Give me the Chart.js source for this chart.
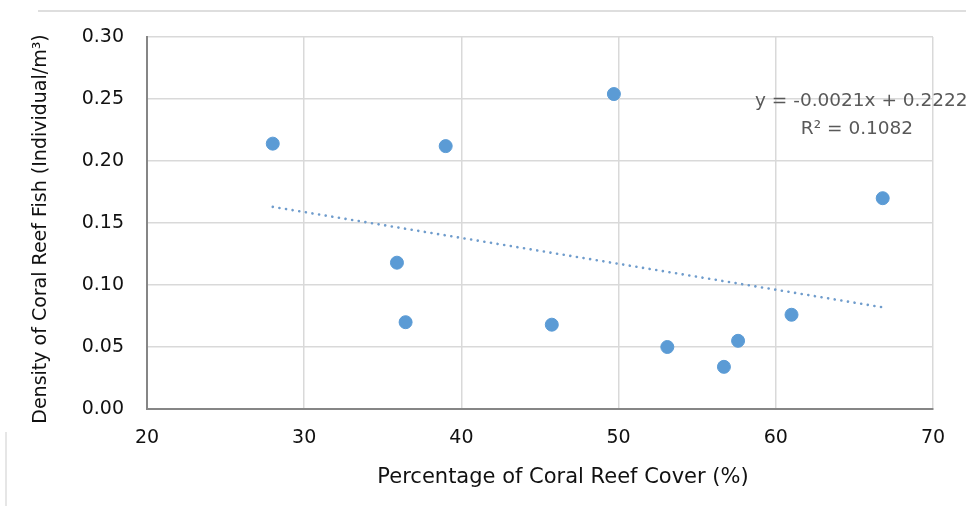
<!DOCTYPE html>
<html>
<head>
<meta charset="utf-8">
<script src="https://cdn.jsdelivr.net/npm/chart.js@4.4.1/dist/chart.umd.min.js"></script>
<style>
  html, body { margin: 0; padding: 0; background: #fff; }
  #wrap { position: relative; width: 966px; height: 506px; overflow: hidden; }
  #topline { position: absolute; left: 38px; right: 0; top: 10px; border-top: 2px solid #dedede; }
  #leftline { position: absolute; left: 5px; top: 432px; bottom: 0; border-left: 2px solid #e6e6e6; }
</style>
</head>
<body>
<div id="wrap">
  <canvas id="chart" width="966" height="506"></canvas>
  <div id="topline"></div>
  <div id="leftline"></div>
</div>
<script>
// ===== coral reef scatter =====
const reefCover = [28.0, 35.9, 36.45, 39.0, 45.75, 49.7, 53.1, 56.7, 57.6, 61.0, 66.8];
const fishDensity = [0.214, 0.118, 0.070, 0.212, 0.068, 0.254, 0.050, 0.034, 0.055, 0.076, 0.170];
// trend line ends
const trendX = [28.0, 66.8];
const trendY = [0.163, 0.082];
const xTicks = [20, 30, 40, 50, 60, 70];
const yTicks = [0, 0.05, 0.10, 0.15, 0.20, 0.25, 0.30];
const equationText = "y = -0.0021x + 0.2222";
const r2Text = "R\u00B2 = 0.1082";
const xTitle = "Percentage of Coral Reef Cover (%)";
const yTitle = "Density of Coral Reef Fish (Individual/m\u00B3)";

const FONT = "'DejaVu Sans'";
const blue = "#5B9BD5";

const textPlugin = {
  id: "textPlugin",
  afterDraw(chart) {
    const { ctx } = chart;
    ctx.save();
    ctx.fillStyle = "#111";
    ctx.font = "21px " + FONT;
    ctx.textAlign = "center";
    ctx.textBaseline = "middle";
    ctx.fillText(xTitle, 563, 478);
    ctx.translate(41, 229);
    ctx.rotate(-Math.PI / 2);
    ctx.font = "19px " + FONT;
    ctx.fillText(yTitle, 0, 0);
    ctx.restore();

    ctx.save();
    ctx.fillStyle = "#595959";
    ctx.font = "18.5px " + FONT;
    ctx.textBaseline = "middle";
    ctx.textAlign = "left";
    ctx.fillText(equationText, 755, 101);
    ctx.textAlign = "center";
    ctx.fillText(r2Text, 857, 129);
    ctx.restore();
  }
};

new Chart(document.getElementById("chart"), {
  type: "scatter",
  data: {
    datasets: [
      {
        label: "Density",
        data: reefCover.map((x, i) => ({ x, y: fishDensity[i] })),
        backgroundColor: blue, borderColor: blue,
        pointRadius: 6.5, pointHoverRadius: 6.5, borderWidth: 1
      },
      {
        type: "line",
        label: "Trend",
        data: trendX.map((x, i) => ({ x, y: trendY[i] })),
        borderColor: "#6f9ccc", borderWidth: 2.6, borderDash: [0.1, 6.6],
        borderCapStyle: "round",
        pointRadius: 0, fill: false
      }
    ]
  },
  options: {
    responsive: false,
    animation: false,
    layout: { padding: { left: 0, right: 33, top: 37, bottom: 0 } },
    plugins: { legend: { display: false }, tooltip: { enabled: false } },
    scales: {
      x: {
        type: "linear", min: 20, max: 70,
        afterBuildTicks: s => { s.ticks = xTicks.map(v => ({ value: v })); },
        afterFit: s => { s.height = 97; },
        grid: { color: "#d9d9d9", lineWidth: 1.5, drawTicks: false },
        border: { color: "#868686", width: 2 },
        ticks: { color: "#111", padding: 18, font: { family: FONT, size: 19 } }
      },
      y: {
        min: 0, max: 0.3,
        afterBuildTicks: s => { s.ticks = yTicks.map(v => ({ value: v })); },
        afterFit: s => { s.width = 147; },
        grid: { color: "#d9d9d9", lineWidth: 1.5, drawTicks: false },
        border: { color: "#868686", width: 2 },
        ticks: { color: "#111", padding: 23, font: { family: FONT, size: 19 },
          callback: v => v.toFixed(2) }
      }
    }
  },
  plugins: [textPlugin]
});
</script>
</body>
</html>
